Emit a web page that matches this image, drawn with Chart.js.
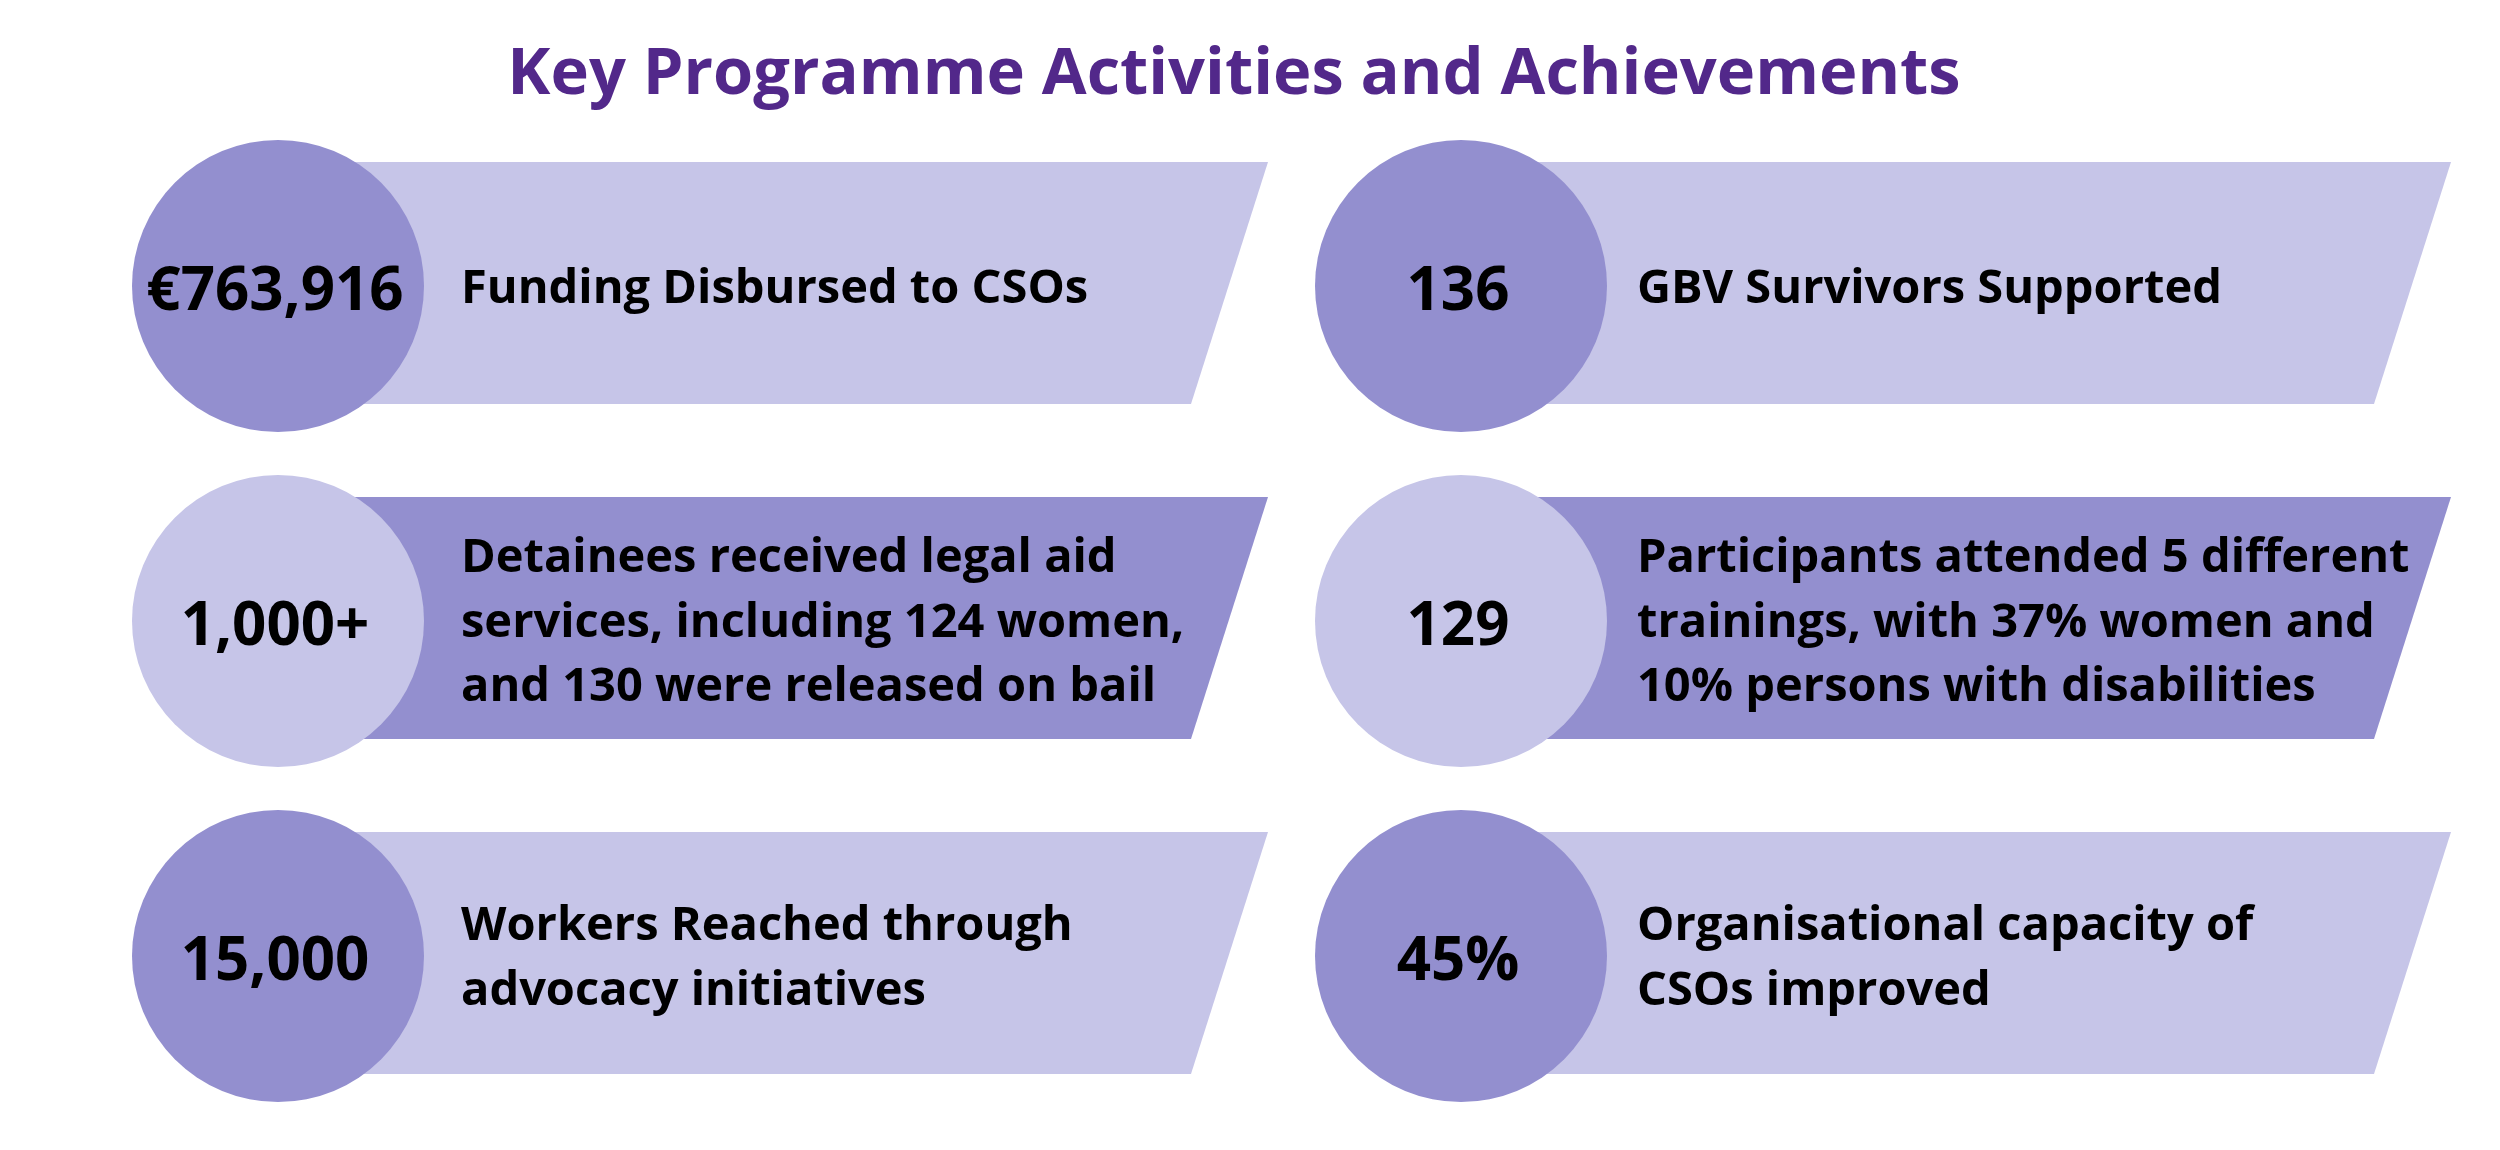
<!DOCTYPE html>
<html>
<head>
<meta charset="utf-8">
<style>
  html, body { margin: 0; padding: 0; background: #ffffff; }
  #wrap { width: 2500px; height: 1150px; }
</style>
<script src="https://cdn.jsdelivr.net/npm/chart.js@4.4.1/dist/chart.umd.min.js"></script>
</head>
<body>
<div id="wrap"><canvas id="c" width="2500" height="1150"></canvas></div>
<script>
// ---- data ----
const chartTitle = 'Key Programme Activities and Achievements';
const values = ['€763,916', '136', '1,000+', '129', '15,000', '45%'];
const descriptions = [
  ['Funding Disbursed to CSOs'],
  ['GBV Survivors Supported'],
  ['Detainees received legal aid', 'services, including 124 women,', 'and 130 were released on bail'],
  ['Participants attended 5 different', 'trainings, with 37% women and', '10% persons with disabilities'],
  ['Workers Reached through', 'advocacy initiatives'],
  ['Organisational capacity of', 'CSOs improved']
];

// ---- styles ----
const DARK = '#938fcf';
const LIGHT = '#c6c5e8';
const TITLE_COLOR = '#52288a';
const FONT = '"Open Sans", "Noto Sans", sans-serif';
const RADIUS = 146;
const COL_GAP = 1183, ROW_GAP = 335;
const TITLE_SIZE = 65, TITLE_PAD_TOP = 36;

const points = values.map((v, i) => ({ x: i % 2, y: Math.floor(i / 2) }));
const circleColors = points.map(p => (p.y === 1 ? LIGHT : DARK));
const bannerColors = points.map(p => (p.y === 1 ? DARK : LIGHT));

const bannerPlugin = {
  id: 'banners',
  beforeDatasetsDraw(chart) {
    const ctx = chart.ctx;
    const meta = chart.getDatasetMeta(0);
    ctx.save();
    meta.data.forEach((el, i) => {
      const cx = el.x, cy = el.y;
      ctx.beginPath();
      ctx.moveTo(cx, cy - 124);
      ctx.lineTo(cx + 990, cy - 124);
      ctx.lineTo(cx + 913, cy + 118);
      ctx.lineTo(cx, cy + 118);
      ctx.closePath();
      ctx.fillStyle = bannerColors[i];
      ctx.fill();
    });
    ctx.restore();
  },
  afterDatasetsDraw(chart) {
    const ctx = chart.ctx;
    const meta = chart.getDatasetMeta(0);
    ctx.save();
    ctx.fillStyle = '#000000';
    meta.data.forEach((el, i) => {
      const cx = el.x, cy = el.y;
      ctx.font = 'bold 60px ' + FONT;
      ctx.textAlign = 'center';
      ctx.textBaseline = 'alphabetic';
      ctx.fillText(values[i], cx - 3, cy + 24);
      const lines = descriptions[i];
      const lx = cx + (points[i].x === 0 ? 183 : 176);
      ctx.font = 'bold 47px ' + FONT;
      ctx.textAlign = 'left';
      const first = cy + 17 - (lines.length - 1) * 33;
      lines.forEach((ln, k) => ctx.fillText(ln, lx, first + k * 64.5));
    });
    ctx.restore();
  }
};

const areaW = 2500 - 32;
const areaTop = TITLE_PAD_TOP + TITLE_SIZE * 1.2;
const xMin = -278 / COL_GAP;
const yMin = -(286 - areaTop) / ROW_GAP;

new Chart(document.getElementById('c'), {
  type: 'scatter',
  data: {
    datasets: [{
      data: points,
      pointRadius: RADIUS,
      pointHoverRadius: RADIUS,
      backgroundColor: circleColors,
      borderWidth: 0,
      clip: false
    }]
  },
  options: {
    responsive: false,
    devicePixelRatio: 1,
    animation: false,
    events: [],
    layout: { autoPadding: false, padding: { left: 0, right: 32, top: 0, bottom: 0 } },
    plugins: {
      legend: { display: false },
      tooltip: { enabled: false },
      title: {
        display: true,
        text: chartTitle,
        color: TITLE_COLOR,
        font: { family: FONT, size: TITLE_SIZE, weight: 'bold', lineHeight: 1.2 },
        padding: { top: TITLE_PAD_TOP, bottom: 0 }
      }
    },
    scales: {
      x: { type: 'linear', display: false, min: xMin, max: xMin + areaW / COL_GAP },
      y: { type: 'linear', display: false, reverse: true, min: yMin, max: yMin + (1150 - areaTop) / ROW_GAP }
    }
  },
  plugins: [bannerPlugin]
});
</script>
</body>
</html>
